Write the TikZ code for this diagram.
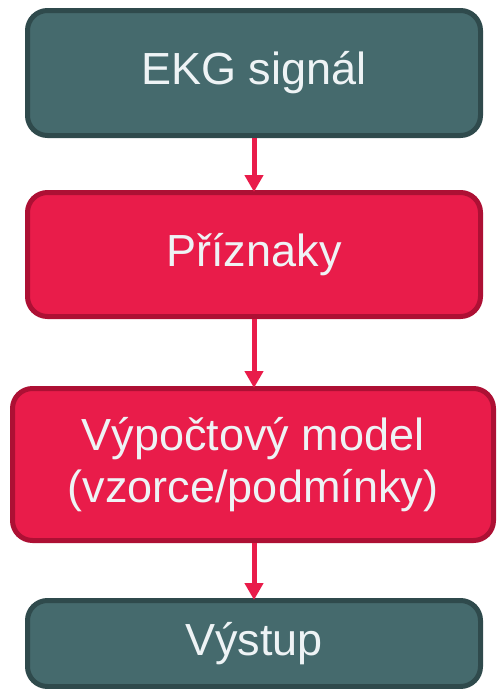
\documentclass[tikz,border=0pt]{standalone}
\usepackage{fontspec}
\setmainfont{Liberation Sans}
\usetikzlibrary{arrows.meta}
\definecolor{tealfill}{HTML}{456A6D}
\definecolor{tealline}{HTML}{2F4A4C}
\definecolor{redfill}{HTML}{E91C4A}
\definecolor{redline}{HTML}{AD1034}
\definecolor{txt}{HTML}{EEF3F5}
\begin{document}
\begin{tikzpicture}[x=1pt,y=1pt,
  box/.style={rectangle, rounded corners=20pt, line width=5pt, inner sep=0pt,
    text=txt, font=\fontsize{45}{52}\selectfont, align=center},
  tealbox/.style={box, fill=tealfill, draw=tealline},
  redbox/.style={box, fill=redfill, draw=redline},
  conn/.style={draw=redfill, line width=5pt, -{Triangle[length=17pt,width=18pt]}, shorten >=-2pt}]
\useasboundingbox (0,0) rectangle (497,-689);
\node[tealbox, minimum width=453pt, minimum height=125pt] (b1) at (254,-73) {EKG signál};
\node[redbox, minimum width=453pt, minimum height=124pt] (b2) at (254,-254.5) {Příznaky};
\node[redbox, minimum width=481pt, minimum height=152pt] (b3) at (253,-464.5) {Výpočtový model\\(vzorce/podmínky)};
\node[tealbox, minimum width=453pt, minimum height=86pt] (b4) at (254,-643.5) {Výstup};
\draw[conn] (b1.south) -- (b2.north);
\draw[conn] (b2.south) -- (b2.south |- b3.north);
\draw[conn] (b3.south -| b4.north) -- (b4.north);
\end{tikzpicture}
\end{document}
